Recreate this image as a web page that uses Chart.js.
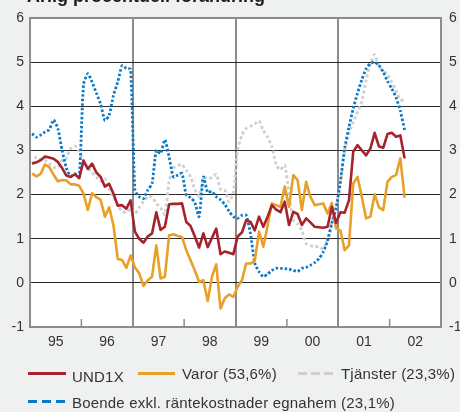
<!DOCTYPE html>
<html lang="sv">

<head>
    <meta charset="UTF-8" />
    <title>Årlig procentuell förändring</title>
    <script src="https://cdn.jsdelivr.net/npm/chart.js"></script>
    <style>
        body { margin: 0; background: #eff1f0; font-family: "Liberation Sans", Arial, sans-serif; color: #333; }
        #wrap { position: relative; width: 460px; height: 412px; overflow: hidden; }
        #titel { position: absolute; left: 27px; top: -13px; font-size: 18px; line-height: 18px; font-weight: bold; color: #1b1b1b; white-space: nowrap; }
        .lg { position: absolute; font-size: 15px; line-height: 16px; letter-spacing: 0.2px; white-space: nowrap; color: #333; }
        .prov { position: absolute; height: 3px; }
    </style>
</head>

<body>
    <div id="wrap">
        <canvas id="grafik" width="460" height="412"></canvas>
        <div id="titel">Årlig procentuell förändring</div>

        <div class="prov" style="left:28px;top:372px;width:38px;background:#a6222c"></div>
        <div class="lg" style="left:72px;top:369px">UND1X</div>
        <div class="prov" style="left:138px;top:372px;width:37px;background:#e8a028"></div>
        <div class="lg" style="left:182px;top:366px">Varor (53,6%)</div>
        <div class="prov" style="left:298px;top:372px;width:37px;background:repeating-linear-gradient(to right,#cfcfcf 0 9px,transparent 9px 13px)"></div>
        <div class="lg" style="left:341px;top:366px">Tjänster (23,3%)</div>
        <div class="prov" style="left:28px;top:400px;width:39px;background:repeating-linear-gradient(to right,#0a7ac8 0 9px,transparent 9px 14px)"></div>
        <div class="lg" style="left:72px;top:395px">Boende exkl. räntekostnader egnahem (23,1%)</div>
    </div>

    <script>
        // månadsdata jan 1995 - apr 2002
        const arLabels = ["95", "96", "97", "98", "99", "00", "01", "02"];
        const yTicks = [-1, 0, 1, 2, 3, 4, 5, 6];

        const und1x = [2.70, 2.73, 2.78, 2.86, 2.84, 2.81, 2.74, 2.60, 2.43, 2.40,
            2.46, 2.37, 2.77, 2.58, 2.70, 2.50, 2.40, 2.18, 2.24, 2.02,
            1.75, 1.76, 1.68, 1.87, 1.16, 1.00, 0.91, 1.05, 1.12, 1.60,
            1.20, 1.27, 1.78, 1.79, 1.79, 1.80, 1.38, 1.29, 1.05, 0.80,
            1.12, 0.81, 1.02, 1.23, 0.65, 0.71, 0.68, 0.65, 1.05, 1.14,
            1.42, 1.38, 1.19, 1.50, 1.27, 1.50, 1.76, 1.66, 1.60, 1.84,
            1.31, 1.61, 1.56, 1.31, 1.46, 1.37, 1.27, 1.26, 1.25, 1.27,
            1.72, 1.36, 1.60, 1.59, 1.87, 2.97, 3.12, 3.00, 2.89, 3.04,
            3.40, 3.09, 3.06, 3.37, 3.40, 3.31, 3.34, 2.82];

        const varor = [2.48, 2.41, 2.47, 2.68, 2.62, 2.45, 2.30, 2.33, 2.32, 2.23,
            2.23, 2.20, 2.02, 1.65, 2.03, 1.94, 1.88, 1.50, 1.71, 1.30,
            0.54, 0.52, 0.34, 0.62, 0.35, 0.22, -0.07, 0.06, 0.14, 0.85,
            0.10, 0.14, 1.08, 1.10, 1.06, 1.04, 0.74, 0.51, 0.28, 0.02,
            0.06, -0.41, 0.14, 0.42, -0.58, -0.35, -0.26, -0.32, -0.09, 0.06,
            0.44, 0.44, 0.50, 1.16, 0.82, 1.30, 1.80, 1.76, 1.72, 2.18,
            1.72, 2.44, 2.33, 1.65, 2.29, 1.95, 1.76, 1.78, 1.80, 1.57,
            1.81, 1.23, 1.19, 0.74, 0.85, 2.25, 2.40, 1.95, 1.46, 1.50,
            2.01, 1.71, 1.65, 2.29, 2.40, 2.44, 2.82, 1.93];

        const tjanster = [2.70, 2.85, 2.80, 2.78, 2.70, 2.62, 2.62, 2.78, 2.82, 3.05,
            3.10, 2.98, 2.75, 2.62, 2.50, 2.40, 2.30, 2.36, 2.13, 1.94,
            1.75, 1.62, 1.60, 1.68, 1.57, 1.70, 1.85, 1.95, 1.95, 1.80,
            1.70, 1.55, 2.30, 2.60, 2.66, 2.68, 2.55, 2.40, 2.12, 1.96,
            2.38, 2.38, 2.38, 2.46, 2.12, 2.10, 1.84, 2.05, 3.00, 3.35,
            3.50, 3.55, 3.60, 3.67, 3.45, 3.30, 3.08, 2.67, 2.56, 2.67,
            2.03, 1.42, 1.34, 1.19, 0.89, 0.84, 0.82, 0.82, 0.76, 1.00,
            1.38, 1.72, 2.25, 3.00, 3.38, 3.64, 3.87, 4.10, 4.59, 4.96,
            5.17, 4.90, 4.80, 4.72, 4.55, 4.35, 4.15, 4.13];

        const boende = [3.38, 3.30, 3.35, 3.42, 3.47, 3.69, 3.50, 3.00, 2.60, 2.42,
            2.47, 2.41, 4.50, 4.74, 4.55, 4.30, 4.05, 3.68, 3.80, 4.25,
            4.55, 4.92, 4.86, 4.84, 2.10, 1.95, 1.91, 2.10, 2.25, 3.00,
            2.93, 3.24, 2.85, 2.40, 2.44, 2.48, 1.99, 1.93, 1.82, 1.50,
            2.40, 2.05, 2.07, 1.95, 1.88, 1.78, 1.62, 1.50, 1.46, 1.53,
            1.53, 1.11, 0.45, 0.25, 0.14, 0.20, 0.28, 0.33, 0.33, 0.32,
            0.31, 0.28, 0.26, 0.33, 0.35, 0.40, 0.46, 0.55, 0.70, 0.95,
            1.35, 1.70, 2.30, 3.05, 3.53, 3.95, 4.30, 4.60, 4.85, 4.97,
            5.00, 4.93, 4.78, 4.57, 4.40, 4.20, 3.90, 3.46];

        const GRA = "#8c8c8c";

        function punkter(serie) {
            return serie.map((v, i) => ({ x: i + 0.5, y: v }));
        }

        // vit rityta + korta skalstreck inåt vid årsskiften
        const ramPlugin = {
            id: "ram",
            beforeDraw(chart) {
                const { ctx, chartArea: a } = chart;
                ctx.save();
                ctx.fillStyle = "#fff";
                ctx.fillRect(a.left, a.top, a.right - a.left, a.bottom - a.top);
                ctx.restore();
            },
            afterDraw(chart) {
                const { ctx, chartArea: a, scales } = chart;
                ctx.save();
                ctx.strokeStyle = GRA;
                ctx.lineWidth = 1.5;
                for (let m = 12; m < 96; m += 24) {
                    const x = scales.x.getPixelForValue(m);
                    ctx.beginPath();
                    ctx.moveTo(x, a.bottom);
                    ctx.lineTo(x, a.bottom - 8);
                    ctx.stroke();
                }
                ctx.restore();
            }
        };

        const linje = (label, serie, farg, bredd, streck) => ({
            label,
            data: punkter(serie),
            borderColor: farg,
            borderWidth: bredd,
            borderDash: streck || [],
            borderJoinStyle: "round",
            pointRadius: 0,
            tension: streck ? 0.2 : 0,
            fill: false
        });

        const ySkala = (pos, bredd, pad) => ({
            position: pos,
            min: -1,
            max: 6,
            afterFit(s) { s.width = bredd; },
            afterBuildTicks(s) { s.ticks = yTicks.map(v => ({ value: v })); },
            grid: {
                drawTicks: false,
                drawOnChartArea: pos === "left",
                color: c => (c.tick && (c.tick.value === 6 || c.tick.value === -1)) ? GRA : "#2a2a2a",
                lineWidth: c => (c.tick && (c.tick.value === 6 || c.tick.value === -1)) ? 2 : 1
            },
            border: { display: true, color: GRA, width: 2 },
            ticks: { padding: pad, color: "#333", font: { size: 14, family: "Liberation Sans" } }
        });

        new Chart(document.getElementById("grafik").getContext("2d"), {
            type: "line",
            data: {
                datasets: [
                    linje("UND1X", und1x, "#a6222c", 2.6),
                    linje("Varor (53,6%)", varor, "#e8a028", 2.6),
                    linje("Boende exkl. räntekostnader egnahem (23,1%)", boende, "#0a7ac8", 2.8, [2.5, 2]),
                    linje("Tjänster (23,3%)", tjanster, "#cfcfcf", 2.8, [3, 2.5])
                ]
            },
            options: {
                responsive: false,
                animation: false,
                devicePixelRatio: 1,
                layout: { padding: { top: 18, left: 0, right: 0, bottom: 0 } },
                plugins: { legend: { display: false }, tooltip: { enabled: false } },
                events: [],
                scales: {
                    x: {
                        type: "linear",
                        min: 0,
                        max: 96,
                        afterFit(s) { s.height = 85; },
                        afterBuildTicks(s) {
                            s.ticks = [];
                            for (let v = 0; v <= 96; v += 6) s.ticks.push({ value: v });
                        },
                        grid: {
                            drawTicks: false,
                            color: c => (c.tick && c.tick.value % 24 === 0) ? GRA : "transparent",
                            lineWidth: 2
                        },
                        border: { display: true, color: GRA, width: 2 },
                        ticks: {
                            autoSkip: false,
                            maxRotation: 0,
                            padding: 7,
                            color: "#333",
                            font: { size: 14, family: "Liberation Sans" },
                            callback: v => v % 12 === 6 ? arLabels[(v - 6) / 12] : ""
                        }
                    },
                    y: ySkala("left", 30, 6),
                    y2: ySkala("right", 19, 8)
                }
            },
            plugins: [ramPlugin]
        });
    </script>
</body>

</html>
